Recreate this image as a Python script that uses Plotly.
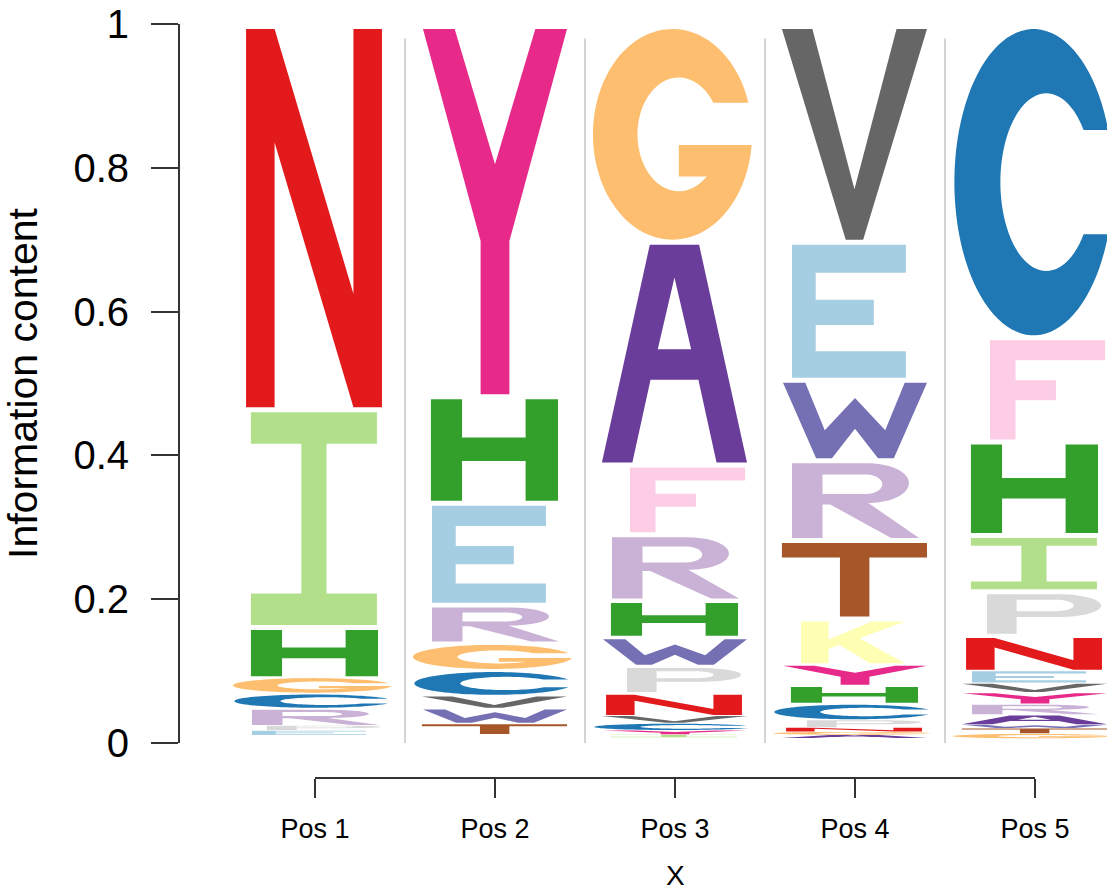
import numpy as np
import plotly.graph_objects as go

# ---------------- data ----------------
positions = [1, 2, 3, 4, 5]
pos_labels = ["Pos 1", "Pos 2", "Pos 3", "Pos 4", "Pos 5"]
y_ticks = [0, 0.2, 0.4, 0.6, 0.8, 1]
y_ticktext = ["0", "0.2", "0.4", "0.6", "0.8", "1"]

# visible letters per position, bottom -> top (remaining share = letters too small to draw)
pos1_letters = ["E", "P", "R", "C", "G", "H", "I", "N"]
pos1_heights = [0.007, 0.007, 0.024, 0.021, 0.023, 0.071, 0.303, 0.533]

pos2_letters = ["T", "W", "V", "C", "G", "R", "E", "H", "Y"]
pos2_heights = [0.0155, 0.021, 0.018, 0.036, 0.038, 0.054, 0.142, 0.148, 0.515]

pos3_letters = ["I", "Y", "C", "V", "N", "P", "W", "H", "R", "F", "A", "G"]
pos3_heights = [0.004, 0.006, 0.010, 0.011, 0.032, 0.038, 0.040, 0.052, 0.092, 0.097, 0.310, 0.300]

pos4_letters = ["A", "G", "N", "P", "C", "H", "Y", "K", "T", "R", "W", "E", "V"]
pos4_heights = [0.0045, 0.0045, 0.006, 0.011, 0.023, 0.025, 0.030, 0.065, 0.109, 0.111, 0.112, 0.192, 0.300]

pos5_letters = ["G", "T", "W", "A", "R", "Y", "V", "E", "N", "P", "I", "H", "F", "C"]
pos5_heights = [0.007, 0.0075, 0.005, 0.014, 0.015, 0.016, 0.013, 0.018, 0.050, 0.062, 0.078, 0.130, 0.145, 0.433]

columns = [
    (pos1_letters, pos1_heights),
    (pos2_letters, pos2_heights),
    (pos3_letters, pos3_heights),
    (pos4_letters, pos4_heights),
    (pos5_letters, pos5_heights),
]

# ---------------- style ----------------
letter_colors = {
    "N": "#e31a1c", "I": "#b2df8a", "H": "#33a02c", "G": "#fdbf6f", "C": "#1f78b4",
    "R": "#cab2d6", "P": "#d9d9d9", "E": "#a6cee3", "Y": "#e7298a", "T": "#a65628",
    "W": "#7570b3", "A": "#6a3d9a", "F": "#fccde5", "V": "#666666", "K": "#ffffb3",
}
# horizontal ink extent of each glyph relative to the column centre (column units)
ink_x = {
    "N": (-0.383, 0.372), "I": (-0.356, 0.344), "H": (-0.356, 0.350),
    "G": (-0.456, 0.428), "C": (-0.448, 0.433), "E": (-0.350, 0.283),
    "R": (-0.350, 0.356), "F": (-0.250, 0.389), "A": (-0.406, 0.400),
    "W": (-0.400, 0.400), "T": (-0.406, 0.400), "V": (-0.406, 0.400),
    "Y": (-0.400, 0.400), "K": (-0.300, 0.278), "P": (-0.267, 0.367),
}
FONT = "Liberation Sans, Arial, Helvetica, sans-serif"
AXIS_COLOR = "#333333"


def arc(cx, cy, rx, ry, a0, a1, n=48):
    t = np.radians(np.linspace(a0, a1, n))
    return [(cx + rx * np.cos(a), cy + ry * np.sin(a)) for a in t]


def glyph(ch):
    """Return list of contours in a unit ink box (u, v)."""
    if ch == "N":
        return [[(0, 0), (0, 1), (0.21, 1), (0.79, 0.30), (0.79, 1), (1, 1), (1, 0),
                 (0.79, 0), (0.21, 0.70), (0.21, 0)]]
    if ch == "I":
        return [[(0, 0), (1, 0), (1, 0.148), (0.6, 0.148), (0.6, 0.852), (1, 0.852), (1, 1),
                 (0, 1), (0, 0.852), (0.4, 0.852), (0.4, 0.148), (0, 0.148)]]
    if ch == "H":
        return [[(0, 0), (0, 1), (0.245, 1), (0.245, 0.623), (0.745, 0.623), (0.745, 1), (1, 1),
                 (1, 0), (0.745, 0), (0.745, 0.391), (0.245, 0.391), (0.245, 0)]]
    if ch == "E":
        return [[(0, 0), (0, 1), (1, 1), (1, 0.79), (0.208, 0.79), (0.208, 0.586), (0.718, 0.586),
                 (0.718, 0.397), (0.208, 0.397), (0.208, 0.2), (1, 0.2), (1, 0)]]
    if ch == "F":
        return [[(0, 0), (0, 1), (1, 1), (1, 0.8), (0.222, 0.8), (0.222, 0.597), (0.573, 0.597),
                 (0.573, 0.396), (0.222, 0.396), (0.222, 0)]]
    if ch == "T":
        return [[(0.4, 0), (0.4, 0.804), (0, 0.804), (0, 1), (1, 1), (1, 0.804), (0.603, 0.804),
                 (0.603, 0)]]
    if ch == "V":
        return [[(0, 1), (0.21, 1), (0.5, 0.24), (0.79, 1), (1, 1), (0.56, 0), (0.44, 0)]]
    if ch == "Y":
        return [[(0, 1), (0.22, 1), (0.5, 0.63), (0.78, 1), (1, 1), (0.6, 0.42), (0.6, 0),
                 (0.4, 0), (0.4, 0.42)]]
    if ch == "W":
        return [[(0, 1), (0.155, 1), (0.29, 0.37), (0.5, 0.8), (0.71, 0.37), (0.845, 1), (1, 1),
                 (0.77, 0), (0.66, 0), (0.5, 0.39), (0.34, 0), (0.23, 0)]]
    if ch == "A":
        outer = [(0, 0), (0.33, 1), (0.67, 1), (1, 0), (0.79, 0), (0.665, 0.38),
                 (0.335, 0.38), (0.21, 0)]
        hole = [(0.385, 0.52), (0.5, 0.85), (0.615, 0.52)]
        return [outer, hole]
    if ch == "K":
        return [[(0, 0), (0, 1), (0.265, 1), (0.265, 0.57), (0.68, 1), (1, 1), (0.56, 0.6),
                 (1, 0), (0.66, 0), (0.37, 0.44), (0.265, 0.34), (0.265, 0)]]
    if ch == "P":
        outer = [(0, 0), (0, 1), (0.62, 1)] + arc(0.62, 0.71, 0.38, 0.29, 90, -90) + \
                [(0.26, 0.42), (0.26, 0)]
        hole = [(0.26, 0.57), (0.6, 0.57)] + arc(0.6, 0.715, 0.16, 0.145, -90, 90) + [(0.26, 0.86)]
        return [outer, hole]
    if ch == "R":
        outer = [(0, 0), (0, 1), (0.6, 1)] + arc(0.6, 0.735, 0.32, 0.265, 90, -90) + \
                [(1, 0), (0.78, 0), (0.30, 0.45), (0.24, 0.45), (0.24, 0)]
        hole = [(0.24, 0.59), (0.58, 0.59)] + arc(0.58, 0.72, 0.13, 0.13, -90, 90) + [(0.24, 0.85)]
        return [outer, hole]
    if ch == "C":
        cxi, rxi, ryi = 0.58, 0.29, 0.29
        a_out = np.degrees(np.arcsin(0.17 / 0.5))
        a_in = np.degrees(np.arcsin(0.17 / ryi))
        pts = arc(0.5, 0.5, 0.5, 0.5, a_out, 360 - a_out, 90) + \
            arc(cxi, 0.5, rxi, ryi, 360 - a_in, a_in, 70)
        return [pts]
    if ch == "G":
        cxi, rxi, ryi = 0.54, 0.26, 0.27
        a_out = np.degrees(np.arcsin(0.15 / 0.5))
        a_in = np.degrees(np.arcsin(0.15 / ryi))
        a_bar = 360 - np.degrees(np.arcsin(0.05 / 0.5))
        a_low = -np.degrees(np.arcsin(0.20 / ryi))
        pts = arc(0.5, 0.5, 0.5, 0.5, a_out, a_bar, 90) + \
            [(0.54, 0.45), (0.54, 0.30)] + \
            arc(cxi, 0.5, rxi, ryi, a_low, a_in - 360, 70)
        return [pts]
    return [[(0, 0), (1, 0), (1, 1), (0, 1)]]


def letter_path(ch, xc, y0, y1):
    xl, xr = ink_x[ch]
    x0, x1 = xc + xl, xc + xr
    parts = []
    for contour in glyph(ch):
        pts = [f"{x0 + u * (x1 - x0):.5f},{y0 + v * (y1 - y0):.5f}" for u, v in contour]
        parts.append("M" + " L".join(pts) + " Z")
    return " ".join(parts)


shapes = []
# light grey separators between positions
for a, b in zip(positions[:-1], positions[1:]):
    xm = (a + b) / 2
    shapes.append(dict(type="line", xref="x", yref="y", x0=xm, x1=xm, y0=0, y1=0.98,
                       line=dict(color="#d4d4d4", width=2), layer="above"))

for xc, (letters, heights) in zip(positions, columns):
    base = 1.0 - sum(heights)
    for ch, h in zip(letters, heights):
        gap = min(0.007, 0.12 * h)
        shapes.append(dict(type="path", xref="x", yref="y",
                           path=letter_path(ch, xc, base, base + h - gap),
                           fillcolor=letter_colors[ch], line=dict(width=0),
                           fillrule="evenodd", layer="above"))
        base += h

fig = go.Figure()
# anchor trace for the position axis
fig.add_trace(go.Scatter(x=positions, y=[0] * len(positions), xaxis="x2", yaxis="y",
                         mode="markers", marker=dict(opacity=0), hoverinfo="skip",
                         showlegend=False))

W, H = 1107, 892
ml, mr, mt, mb = 180, 0, 24, 114
plot_w = W - ml - mr
plot_h = H - mt - mb
px_per_unit = 180.0
x_lo = 0.25
x_hi = x_lo + plot_w / px_per_unit
d0 = (positions[0] - x_lo) * px_per_unit / plot_w
d1 = (positions[-1] - x_lo) * px_per_unit / plot_w

fig.update_layout(
    width=W, height=H,
    margin=dict(l=ml, r=mr, t=mt, b=mb, autoexpand=False),
    paper_bgcolor="white", plot_bgcolor="white",
    font=dict(family=FONT, color="black"),
    shapes=shapes,
    showlegend=False,
    xaxis=dict(domain=[0, 1], range=[x_lo, x_hi], anchor="y", showline=False,
               showgrid=False, zeroline=False, showticklabels=False, ticks=""),
    xaxis2=dict(domain=[d0, d1], range=[positions[0], positions[-1]], anchor="free",
                position=0, showline=True, linecolor=AXIS_COLOR, linewidth=2,
                ticks="outside", ticklen=19, tickwidth=2, tickcolor=AXIS_COLOR,
                tickvals=positions, ticktext=pos_labels, tickfont=dict(size=27),
                ticklabelstandoff=8, showgrid=False, zeroline=False),
    yaxis=dict(domain=[35 / plot_h, 1], range=[0, 1], anchor="x", showline=True,
               linecolor=AXIS_COLOR, linewidth=2, ticks="outside", ticklen=27,
               tickwidth=2, tickcolor=AXIS_COLOR, tickvals=y_ticks, ticktext=y_ticktext,
               tickfont=dict(size=40), ticklabelstandoff=14, ticklabeloverflow="allow",
               showgrid=False, zeroline=False,
               title=dict(text="Information content", font=dict(size=41), standoff=23)),
    annotations=[dict(text="X", xref="x2 domain", yref="paper", x=0.5, y=0,
                      xanchor="center", yanchor="middle", yshift=-97, showarrow=False,
                      font=dict(size=28))],
)

fig.write_html("out.html", config={"displayModeBar": False},
               post_script="document.body.style.margin='0';")
